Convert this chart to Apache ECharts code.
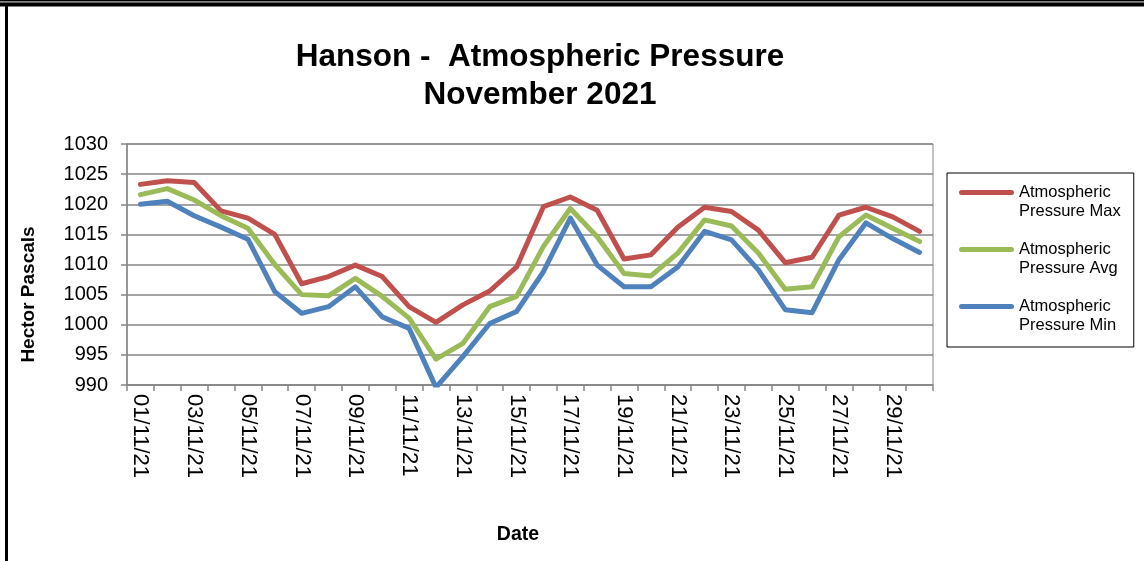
<!DOCTYPE html>
<html>
<head>
<meta charset="utf-8">
<title>Hanson - Atmospheric Pressure, November 2021</title>
<script src="https://cdn.jsdelivr.net/npm/echarts@6/dist/echarts.min.js"></script>
<style>
  html, body { margin: 0; padding: 0; background: #ffffff; }
  #chart { width: 1144px; height: 561px; }
</style>
</head>
<body>
<div id="chart"></div>
<script>
// Daily dates for November 2021
const dates = [
  '01/11/21','02/11/21','03/11/21','04/11/21','05/11/21','06/11/21','07/11/21','08/11/21','09/11/21','10/11/21',
  '11/11/21','12/11/21','13/11/21','14/11/21','15/11/21','16/11/21','17/11/21','18/11/21','19/11/21','20/11/21',
  '21/11/21','22/11/21','23/11/21','24/11/21','25/11/21','26/11/21','27/11/21','28/11/21','29/11/21','30/11/21'
];

// Daily pressure readings (hPa)
const pressureMax = [
  1023.3, 1023.9, 1023.6, 1018.9, 1017.7, 1015.0, 1006.8, 1008.0, 1009.9, 1008.0,
  1003.0, 1000.4, 1003.3, 1005.6, 1009.6, 1019.6, 1021.2, 1019.0, 1010.9, 1011.6,
  1016.2, 1019.5, 1018.8, 1015.7, 1010.3, 1011.2, 1018.2, 1019.5, 1017.9, 1015.5
];
const pressureAvg = [
  1021.6, 1022.6, 1020.7, 1018.1, 1016.0, 1010.0, 1005.0, 1004.8, 1007.7, 1004.7,
  1001.1, 994.3, 996.9, 1003.0, 1004.7, 1013.0, 1019.3, 1014.6, 1008.5, 1008.1,
  1011.9, 1017.4, 1016.4, 1011.9, 1005.9, 1006.3, 1014.6, 1018.2, 1016.0, 1013.8
];
const pressureMin = [
  1020.0, 1020.5, 1018.1, 1016.2, 1014.2, 1005.5, 1001.9, 1003.0, 1006.3, 1001.3,
  999.4, 989.6, 994.7, 1000.2, 1002.2, 1008.8, 1017.7, 1009.9, 1006.3, 1006.3,
  1009.6, 1015.5, 1014.1, 1009.1, 1002.5, 1002.0, 1010.8, 1016.9, 1014.3, 1012.0
];

const seriesNames = ['Atmospheric Pressure Max', 'Atmospheric Pressure Avg', 'Atmospheric Pressure Min'];
const seriesColors = ['#C0504D', '#9BBB59', '#4F81BD'];

const FONT = '"Liberation Sans", Arial, sans-serif';

// Legend icon: a short thick line sitting level with the first text line
const legendIcon = 'path://M0,0L0.01,0L0,0.01Z M2.5,7L52.5,7A2.5,2.5 0 0 1 52.5,12L2.5,12A2.5,2.5 0 0 1 2.5,7Z M0,38L0.01,38L0,37.99Z';

const chart = echarts.init(document.getElementById('chart'), null, { renderer: 'canvas' });

const makeSeries = (name, data, color) => ({
  name: name,
  type: 'line',
  data: data,
  symbol: 'none',
  color: color,
  lineStyle: { width: 5, color: color, join: 'round', cap: 'round' },
  emphasis: { disabled: true },
  animation: false
});

chart.setOption({
  backgroundColor: '#ffffff',
  textStyle: { fontFamily: FONT },
  title: {
    text: 'Hanson -  Atmospheric Pressure\nNovember 2021',
    left: 535,
    top: 33,
    textAlign: 'center',
    textStyle: {
      fontFamily: FONT,
      fontSize: 31.5,
      fontWeight: 'bold',
      color: '#000000',
      lineHeight: 38
    }
  },
  legend: {
    orient: 'vertical',
    left: 947,
    top: 173,
    padding: [10, 13, 12, 12],
    itemGap: 19,
    itemWidth: 55,
    itemHeight: 38,
    icon: legendIcon,
    borderColor: '#000000',
    borderWidth: 1,
    selectedMode: false,
    data: seriesNames,
    formatter: function (name) {
      const parts = name.split(' ');
      return parts[0] + '\n' + parts.slice(1).join(' ');
    },
    textStyle: {
      fontFamily: FONT,
      fontSize: 16.5,
      lineHeight: 19,
      color: '#000000'
    }
  },
  grid: {
    left: 127,
    right: 211,
    top: 144,
    bottom: 176,
    show: true,
    borderColor: '#868686',
    borderWidth: 1
  },
  xAxis: {
    type: 'category',
    data: dates,
    boundaryGap: true,
    name: 'Date',
    nameLocation: 'middle',
    nameGap: 140,
    nameTextStyle: { fontFamily: FONT, fontSize: 19.5, fontWeight: 'bold', color: '#000000', padding: [0, 24, 0, 0] },
    axisLine: { show: true, lineStyle: { color: '#868686', width: 1.5 } },
    axisTick: { show: true, interval: 0, length: 6, inside: false, lineStyle: { color: '#868686', width: 1.5 } },
    axisLabel: {
      interval: 1,
      rotate: -90,
      margin: 9,
      fontFamily: FONT,
      fontSize: 22,
      color: '#000000'
    },
    splitLine: { show: false }
  },
  yAxis: {
    type: 'value',
    min: 990,
    max: 1030,
    interval: 5,
    name: 'Hector Pascals',
    nameLocation: 'middle',
    nameGap: 89,
    nameRotate: 90,
    nameTextStyle: { fontFamily: FONT, fontSize: 19, fontWeight: 'bold', color: '#000000', padding: [0, 60, 0, 0] },
    axisLine: { show: true, lineStyle: { color: '#868686', width: 1.5 } },
    axisTick: { show: true, length: 6, inside: false, lineStyle: { color: '#868686', width: 1.5 } },
    axisLabel: {
      margin: 19,
      fontFamily: FONT,
      fontSize: 20,
      color: '#000000',
      formatter: function (v) { return String(v); }
    },
    splitLine: { show: true, lineStyle: { color: '#868686', width: 1.5 } }
  },
  graphic: [
    // outer frame: heavy double rule across the top, single rule down the left
    { type: 'rect', left: 0, top: 0, shape: { width: 1144, height: 1.5 }, style: { fill: '#000000' }, silent: true },
    { type: 'rect', left: 0, top: 1.5, shape: { width: 1144, height: 1 }, style: { fill: '#8a8a8a' }, silent: true },
    { type: 'rect', left: 0, top: 2.5, shape: { width: 1144, height: 4 }, style: { fill: '#000000' }, silent: true },
    { type: 'rect', left: 5, top: 6, shape: { width: 3, height: 560 }, style: { fill: '#000000' }, silent: true }
  ],
  series: [
    makeSeries(seriesNames[0], pressureMax, seriesColors[0]),
    makeSeries(seriesNames[1], pressureAvg, seriesColors[1]),
    makeSeries(seriesNames[2], pressureMin, seriesColors[2])
  ]
});
</script>
</body>
</html>
